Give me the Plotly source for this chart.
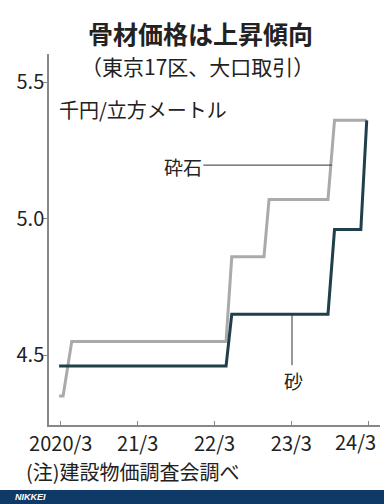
import plotly.graph_objects as go

# ---- data ----
gravel_dates = ["2020-02-22", "2020-03-12", "2020-04-22", "2022-04-25", "2022-05-22",
                "2022-10-22", "2022-11-15", "2023-08-22", "2023-09-22", "2024-02-22"]
gravel_vals = [4.35, 4.35, 4.55, 4.55, 4.86, 4.86, 5.07, 5.07, 5.36, 5.36]

sand_dates = ["2020-02-22", "2022-04-25", "2022-05-22", "2023-08-22", "2023-09-22",
              "2024-01-25", "2024-02-22"]
sand_vals = [4.46, 4.46, 4.65, 4.65, 4.96, 4.96, 5.36]

x_tickvals = ["2020-03-01", "2021-03-01", "2022-03-01", "2023-03-01", "2024-03-01"]
x_ticktext = ["2020/3", "21/3", "22/3", "23/3", "24/3"]
y_tickvals = [4.5, 5.0, 5.5]

JP = "Noto Sans CJK JP"
W, H = 384, 504
L, R, T, B = 49, 4, 54, 79
pw, ph = W - L - R, H - T - B


def px(x):
    return (x - L) / pw


def py(y):
    return (H - B - y) / ph


fig = go.Figure()
fig.add_trace(go.Scatter(x=gravel_dates, y=gravel_vals, mode="lines",
                         line=dict(color="#aaaaaa", width=3), hoverinfo="skip"))
fig.add_trace(go.Scatter(x=sand_dates, y=sand_vals, mode="lines",
                         line=dict(color="#1f3f4b", width=3), hoverinfo="skip"))

# last x tick label is drawn separately (shifted left to fit, as in the original)
shown_ticktext = x_ticktext[:-1] + [""]

fig.update_layout(
    width=W, height=H,
    margin=dict(l=L, r=R, t=T, b=B),
    paper_bgcolor="white", plot_bgcolor="white",
    showlegend=False,
    font=dict(family=JP, color="#222"),
    xaxis=dict(type="date", range=["2020-01-05", "2024-04-25"],
               tickvals=x_tickvals, ticktext=shown_ticktext,
               ticks="inside", ticklen=4, tickcolor="#888", tickwidth=1.2,
               showline=True, linecolor="#888", linewidth=1.5,
               showgrid=False, zeroline=False,
               tickfont=dict(family=JP, size=20, color="#222")),
    yaxis=dict(range=[4.244, 5.603], tickvals=y_tickvals, tickformat=".1f",
               ticks="outside", ticklen=4, tickcolor="#888", tickwidth=1.2,
               showline=True, linecolor="#888", linewidth=1.5,
               showgrid=False, zeroline=False, ticklabelstandoff=-5,
               tickfont=dict(family=JP, size=20, color="#222")),
)

# leader lines
fig.add_shape(type="line", xref="x", yref="y", x0="2022-01-07", x1="2023-09-10",
              y0=5.196, y1=5.196, line=dict(color="#333", width=1))
fig.add_shape(type="line", xref="x", yref="y", x0="2023-03-04", x1="2023-03-04",
              y0=4.65, y1=4.463, line=dict(color="#333", width=1))

# bottom band
fig.add_shape(type="rect", xref="paper", yref="paper", x0=px(0), x1=px(W),
              y0=py(H), y1=py(490), fillcolor="#0f3a68", line=dict(width=0), layer="above")

ann = [
    dict(text="<b>骨材価格は上昇傾向</b>", x=px(200), y=py(33), size=25, xa="center"),
    dict(text="（東京17区、大口取引）", x=px(197), y=py(66), size=21, xa="center"),
    dict(text="千円/立方メートル", x=px(57), y=py(110), size=20, xa="left"),
    dict(text="砕石", x=px(204), y=py(166), size=19, xa="right"),
    dict(text="砂", x=px(293), y=py(380), size=19, xa="center"),
    dict(text="(注)建設物価調査会調べ", x=px(24), y=py(472), size=20, xa="left"),
    dict(text=x_ticktext[-1], x=px(378), y=py(441), size=20, xa="right"),
]
for a in ann:
    fig.add_annotation(text=a["text"], x=a["x"], y=a["y"], xref="paper", yref="paper",
                       xanchor=a["xa"], yanchor="middle", showarrow=False,
                       font=dict(family=JP, size=a["size"], color="#222"))
fig.add_annotation(text="<b><i>NIKKEI</i></b>", x=px(13), y=py(497), xref="paper", yref="paper",
                   xanchor="left", yanchor="middle", showarrow=False,
                   font=dict(family="Liberation Sans", size=9, color="white"))

fig.write_html("out.html")
